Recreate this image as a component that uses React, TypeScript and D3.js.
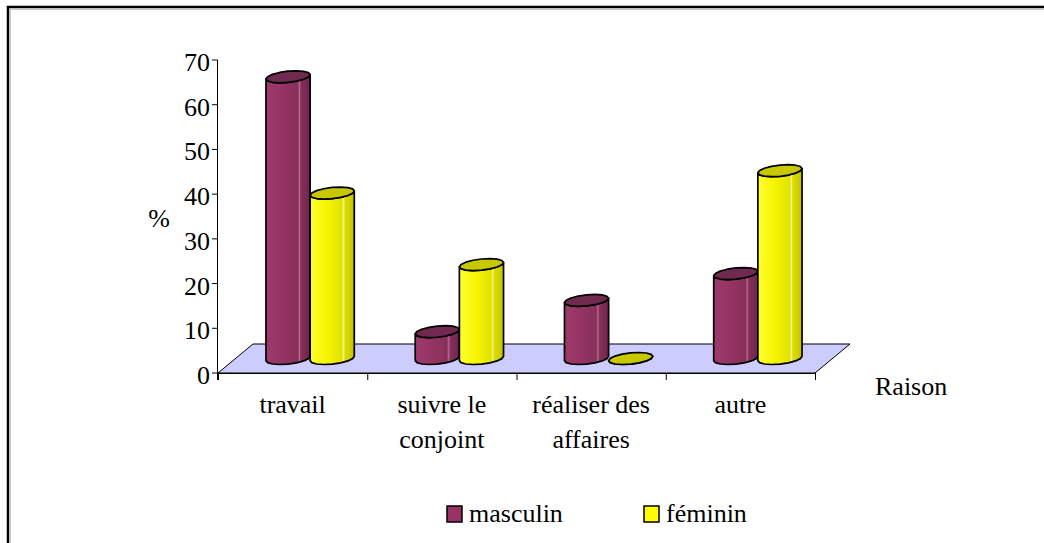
import React from "react";
import { scaleLinear, scaleBand, line, curveLinearClosed } from "d3";

const categories = ["travail", "suivre le\nconjoint", "réaliser des\naffaires", "autre"];
const series = ["masculin", "féminin"];
const masculin = [63, 6, 13, 19];
const feminin = [37, 21, 0, 42];
const yTicks = [0, 10, 20, 30, 40, 50, 60, 70];

const values: Record<string, number[]> = { masculin, féminin: feminin };

const colors: Record<string, { fill: string; cap: string; stops: [number, string][] }> = {
  masculin: {
    fill: "#993366",
    cap: "#702a50",
    stops: [
      [0, "#9e3a6a"],
      [0.4, "#953462"],
      [0.72, "#86305a"],
      [0.76, "#b66890"],
      [0.79, "#84305a"],
      [0.9, "#7b2a53"],
      [1, "#6c2449"],
    ],
  },
  féminin: {
    fill: "#ffff00",
    cap: "#c8c800",
    stops: [
      [0, "#ffff30"],
      [0.4, "#f4f400"],
      [0.72, "#e2e200"],
      [0.76, "#f4f490"],
      [0.79, "#dcdc00"],
      [0.9, "#d0d000"],
      [1, "#c0c000"],
    ],
  },
};

const W = 1044;
const H = 543;
const font = "'Liberation Serif', 'Times New Roman', Times, serif";
const fs = 26;

// oblique depth of the floor
const depth = { dx: 35, dy: -29 };

export default function App() {
  const y = scaleLinear().domain([0, 70]).range([373, 60]);
  const x0 = scaleBand<string>().domain(categories).range([218, 815]);
  const x1 = scaleBand<string>()
    .domain(series)
    .range([0, x0.bandwidth()])
    .paddingOuter(0.69)
    .paddingInner(0);

  const R = x1.bandwidth() / 2;
  const a = 8; // shear of the cap
  const c = 6; // vertical half height of the cap
  const r = Math.sqrt(R * R - a * a);
  const theta = Math.atan2(a, r);

  const pt = (cx: number, cy: number, t: number): [number, number] => [
    cx + r * Math.cos(t) + a * Math.sin(t),
    cy - c * Math.sin(t),
  ];

  const arc = (cx: number, cy: number, t0: number, t1: number, n = 8) => {
    const pts: [number, number][] = [];
    for (let i = 0; i <= n; i++) pts.push(pt(cx, cy, t0 + ((t1 - t0) * i) / n));
    return pts;
  };

  const poly = line().curve(curveLinearClosed);

  const x0min = x0.range()[0];
  const x0max = x0.range()[1];
  const floor: [number, number][] = [
    [x0min, y(0)],
    [x0max, y(0)],
    [x0max + depth.dx, y(0) + depth.dy],
    [x0min + depth.dx, y(0) + depth.dy],
  ];

  const tickXs = [...categories.map((d) => x0(d) as number), x0max];
  const txt = { fontFamily: font, fontSize: fs };

  return (
    <svg
      width={W}
      height={H}
      style={{ position: "absolute", left: 0, top: 0, background: "#fff" }}
    >
      <defs>
        {series.map((s, i) => (
          <linearGradient key={s} id={`g${i}`} x1="0" x2="1" y1="0" y2="0">
            {colors[s].stops.map(([o, col]) => (
              <stop key={o} offset={o} stopColor={col} />
            ))}
          </linearGradient>
        ))}
      </defs>

      {/* outer frame */}
      <rect x={10.5} y={9.5} width={W} height={H} fill="none" stroke="#c8c8c8" strokeWidth={1} />
      <rect x={8} y={7} width={W} height={H} fill="none" stroke="#000" strokeWidth={2.5} />

      {/* floor */}
      <path d={poly(floor) as string} fill="#ccccff" stroke="#000" strokeWidth={1} />

      {/* axes */}
      <line x1={217.5} x2={217.5} y1={y(70)} y2={380} stroke="#000" />
      {yTicks.map((t) => (
        <g key={t}>
          <line x1={212} x2={217.5} y1={y(t)} y2={y(t)} stroke="#000" />
          <text x={210} y={y(t) + 11} textAnchor="end" style={txt}>
            {t}
          </text>
        </g>
      ))}
      <line x1={x0min} x2={x0max} y1={y(0) + 0.5} y2={y(0) + 0.5} stroke="#000" />
      {tickXs.map((tx, i) => (
        <line key={i} x1={tx + 0.5} x2={tx + 0.5} y1={y(0)} y2={380} stroke="#000" />
      ))}

      {/* bars */}
      {categories.map((cat, ci) =>
        series.map((s, si) => {
          const v = values[s][ci];
          const cx = (x0(cat) as number) + (x1(s) as number) + R + depth.dx / 2;
          const by = y(0) + depth.dy / 2;
          const ty = y(v) + depth.dy / 2;
          const body = [
            ...arc(cx, by, Math.PI + theta, 2 * Math.PI + theta),
            ...arc(cx, ty, 2 * Math.PI + theta, Math.PI + theta),
          ];
          const cap = arc(cx, ty, theta, 2 * Math.PI + theta, 16);
          return (
            <g key={`${ci}-${si}`}>
              <path
                d={poly(body) as string}
                fill={`url(#g${si})`}
                stroke="#000"
                strokeWidth={1.7}
                strokeLinejoin="round"
              />
              <path
                d={poly(cap) as string}
                fill={colors[s].cap}
                stroke="#000"
                strokeWidth={1.7}
                strokeLinejoin="round"
              />
            </g>
          );
        })
      )}

      {/* category labels */}
      {categories.map((cat) => {
        const cx = (x0(cat) as number) + x0.bandwidth() / 2;
        return (
          <text key={cat} x={cx} y={413} textAnchor="middle" style={txt}>
            {cat.split("\n").map((ln, i) => (
              <tspan key={i} x={cx} dy={i === 0 ? 0 : 35}>
                {ln}
              </tspan>
            ))}
          </text>
        );
      })}

      {/* axis titles */}
      <text x={159} y={227} textAnchor="middle" style={txt}>
        %
      </text>
      <text x={875} y={395} style={txt}>
        Raison
      </text>

      {/* legend */}
      {series.map((s, i) => {
        const lx = 447 + i * 197;
        return (
          <g key={s}>
            <rect x={lx} y={506} width={15} height={16} fill={colors[s].fill} stroke="#000" strokeWidth={1.5} />
            <text x={lx + 22} y={522} style={txt}>
              {s}
            </text>
          </g>
        );
      })}
    </svg>
  );
}
